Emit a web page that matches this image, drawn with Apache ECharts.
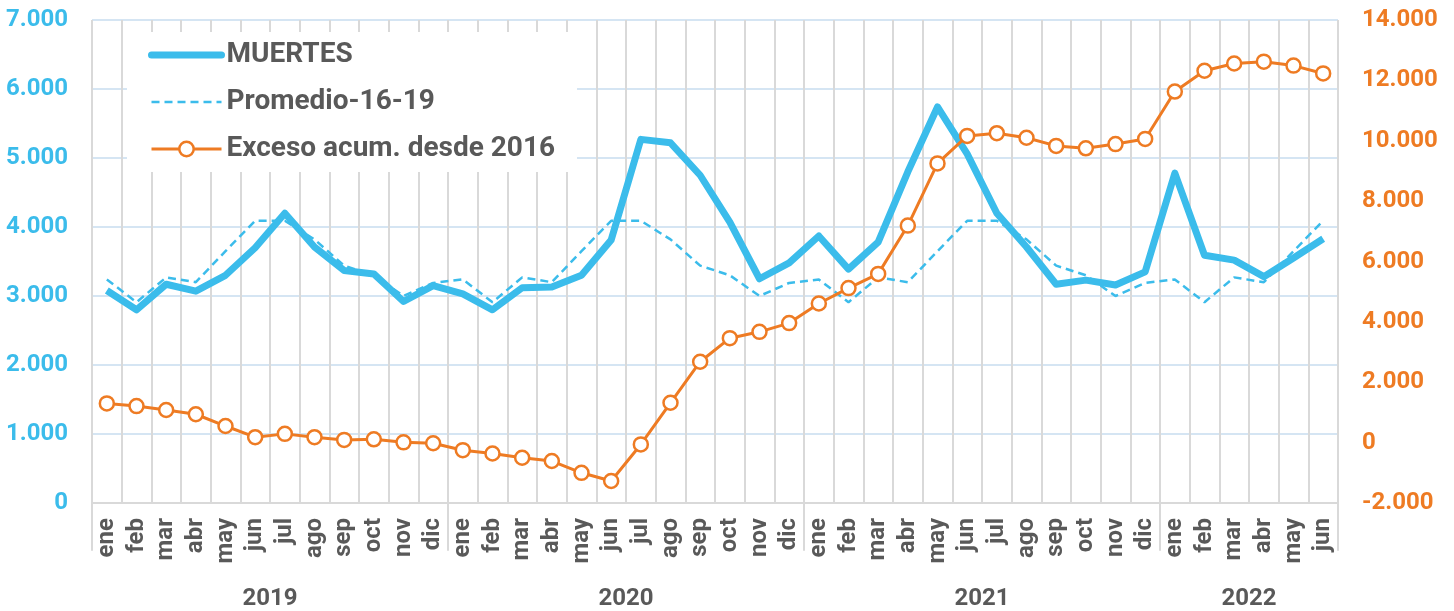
<!DOCTYPE html>
<html>
<head>
<meta charset="utf-8">
<script src="https://cdn.jsdelivr.net/npm/echarts@6/dist/echarts.min.js"></script>
<style>
  html, body { margin: 0; padding: 0; background: #fff; }
  #chart { width: 1454px; height: 611px; }
</style>
</head>
<body>
<div id="chart"></div>
<script>
// data
const months = ["ene", "feb", "mar", "abr", "may", "jun", "jul", "ago", "sep", "oct", "nov", "dic"];
const years = ["2019", "2020", "2021", "2022"];
const monthsPerYear = [12, 12, 12, 6];

const muertes = [
  3080, 2800, 3170, 3070, 3300, 3700, 4200, 3710, 3370, 3320, 2920, 3150,
  3030, 2800, 3120, 3130, 3300, 3810, 5270, 5220, 4750, 4070, 3250, 3480,
  3870, 3390, 3780, 4800, 5740, 5060, 4200, 3710, 3170, 3230, 3160, 3350,
  4780, 3590, 3520, 3280, 3550, 3830
];
const promedio = [
  3240, 2910, 3270, 3200, 3650, 4090, 4090, 3820, 3440, 3300, 3000, 3190,
  3240, 2910, 3270, 3200, 3650, 4090, 4090, 3820, 3440, 3300, 3000, 3190,
  3240, 2910, 3270, 3200, 3650, 4090, 4090, 3820, 3440, 3300, 3000, 3190,
  3240, 2910, 3270, 3200, 3650, 4090
];
const exceso = [
  1300, 1210, 1080, 940, 550, 180, 290, 180, 90, 110, 10, -20,
  -250, -360, -500, -610, -1000, -1270, -60, 1320, 2680, 3460, 3670, 3960,
  4610, 5120, 5590, 7190, 9250, 10160, 10250, 10100, 9830, 9750, 9890, 10060,
  11630, 12320, 12560, 12620, 12490, 12230
];

const yTicksLeft = [0, 7000, 1000];
const yTicksRight = [-2000, 14000, 2000];

const categories = [];
const yearBounds = [0];
const yearMids = [];
monthsPerYear.forEach(function (n) {
  const start = yearBounds[yearBounds.length - 1];
  months.slice(0, n).forEach(function (m) { categories.push(m); });
  yearBounds.push(start + n);
  yearMids.push(start + n / 2);
});

const blue = "#3BBCEB";
const orange = "#EE7B23";
const gray = "#595959";
const font = "Roboto";

function miles(v) {
  return String(v).replace(/\B(?=(\d{3})+(?!\d))/g, ".");
}

var myChart = echarts.init(document.getElementById("chart"));
var option = {
  animation: false,
  textStyle: { fontFamily: font },
  grid: { left: 92, right: 116, top: 20, bottom: 108 },
  legend: {
    data: [
      { name: "MUERTES", itemStyle: { opacity: 0 }, lineStyle: { width: 7, color: blue, cap: "round" } },
      { name: "Promedio-16-19", itemStyle: { opacity: 0 }, lineStyle: { width: 2.5, color: blue, type: [8, 5] } },
      {
        name: "Exceso acum. desde 2016",
        itemStyle: { color: "#fff", borderColor: orange, borderWidth: 2.5 },
        lineStyle: { width: 3, color: orange },
      },
    ],
    orient: "vertical",
    left: 127,
    top: 32,
    padding: [8, 22, 8, 21],
    backgroundColor: "#fff",
    itemWidth: 70,
    itemHeight: 18,
    itemGap: 17,
    textStyle: {
      fontFamily: font,
      fontSize: 28,
      fontWeight: "bold",
      color: gray,
      lineHeight: 30,
    },
  },
  xAxis: [
    {
      type: "category",
      data: categories,
      boundaryGap: true,
      axisLine: { lineStyle: { color: "#D9D9D9", width: 2 } },
      axisTick: { interval: 0, length: 64, lineStyle: { color: "#D9D9D9", width: 2 } },
      splitLine: { show: true, interval: 0, lineStyle: { color: "#D9D9D9", width: 2 } },
      axisLabel: {
        interval: 0,
        rotate: 90,
        margin: 15,
        fontFamily: font,
        fontSize: 24,
        fontWeight: "bold",
        color: gray,
      },
    },
    {
      type: "value",
      position: "bottom",
      offset: 0,
      min: 0,
      max: categories.length,
      axisLine: { show: false },
      splitLine: { show: false },
      axisTick: {
        show: true,
        customValues: yearBounds,
        length: 108,
        lineStyle: { color: "#D9D9D9", width: 2 },
      },
      axisLabel: {
        customValues: yearMids,
        margin: 84,
        fontFamily: font,
        fontSize: 24,
        fontWeight: "bold",
        color: gray,
        formatter: function (v) {
          return years[yearMids.indexOf(v)];
        },
      },
    },
  ],
  yAxis: [
    {
      type: "value",
      min: yTicksLeft[0],
      max: yTicksLeft[1],
      interval: yTicksLeft[2],
      axisLine: { show: false },
      axisTick: { show: false },
      splitLine: { lineStyle: { color: "#D5E5F3", width: 2 } },
      axisLabel: {
        margin: 24,
        fontFamily: font,
        fontSize: 24,
        fontWeight: "bold",
        color: blue,
        formatter: miles,
      },
    },
    {
      type: "value",
      min: yTicksRight[0],
      max: yTicksRight[1],
      interval: yTicksRight[2],
      axisLine: { show: false },
      axisTick: { show: false },
      splitLine: { show: false },
      axisLabel: {
        margin: 24,
        fontFamily: font,
        fontSize: 24,
        fontWeight: "bold",
        color: orange,
        formatter: miles,
      },
    },
  ],
  series: [
    {
      name: "Promedio-16-19",
      type: "line",
      data: promedio,
      symbol: "none",
      color: blue,
      lineStyle: { color: blue, width: 2.5, type: [8, 5] },
      z: 2,
    },
    {
      name: "MUERTES",
      type: "line",
      data: muertes,
      symbol: "none",
      color: blue,
      lineStyle: { color: blue, width: 7, join: "round" },
      z: 3,
    },
    {
      name: "Exceso acum. desde 2016",
      type: "line",
      yAxisIndex: 1,
      data: exceso,
      symbol: "circle",
      symbolSize: 14,
      color: orange,
      itemStyle: { color: "#fff", borderColor: orange, borderWidth: 2.5 },
      lineStyle: { color: orange, width: 3 },
      z: 4,
    },
  ],
};
myChart.setOption(option, true);
</script>
</body>
</html>
